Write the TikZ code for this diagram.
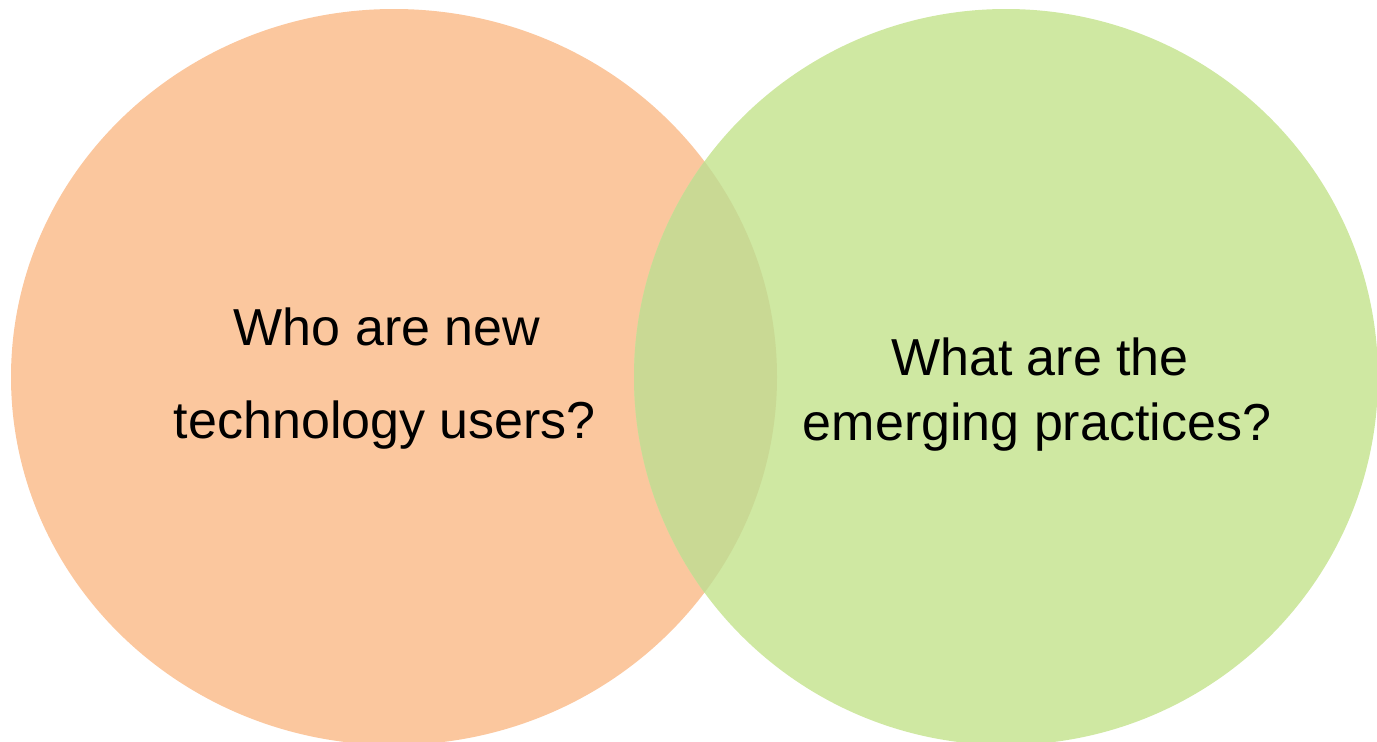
\documentclass[tikz,border=0pt]{standalone}
\usepackage{fontspec}
\setmainfont{Liberation Sans}
\definecolor{vorange}{RGB}{251,199,158}
\definecolor{vgreen}{RGB}{207,232,162}
\definecolor{voverlap}{RGB}{201,217,148}
\tikzset{
  vlabel/.style={anchor=base, inner sep=0pt, font=\fontsize{52pt}{60pt}\selectfont, text=black}
}
\begin{document}
\begin{tikzpicture}[x=1pt,y=1pt]
  \useasboundingbox (0,0) rectangle (1377,-742);
  \clip (0,0) rectangle (1377,-742);
  \fill[vorange] (394,-377) ellipse [x radius=383, y radius=368];
  \fill[vgreen] (1006,-377) ellipse [x radius=372, y radius=368];
  \begin{scope}
    \clip (394,-377) ellipse [x radius=383, y radius=368];
    \fill[voverlap] (1006,-377) ellipse [x radius=372, y radius=368];
  \end{scope}
  \node[vlabel] (l1) at (387,-345) {Who are new};
  \node[vlabel] (l2) at (385,-438) {technology users?};
  \node[vlabel] (r1) at (1040,-375) {What are the};
  \node[vlabel] (r2) at (1037,-440) {emerging practices?};
\end{tikzpicture}
\end{document}
